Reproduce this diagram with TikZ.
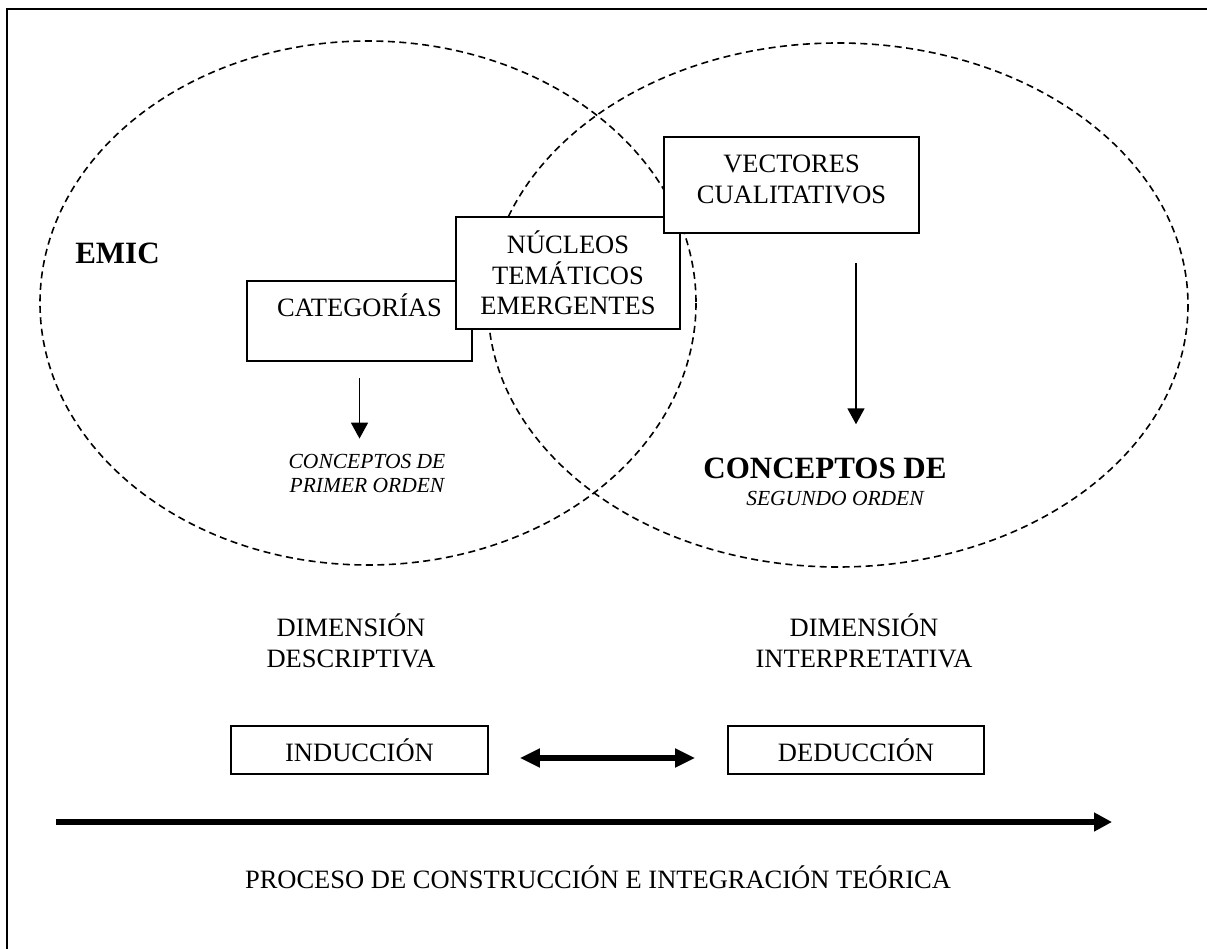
\documentclass[tikz,border=0pt]{standalone}
\usepackage{fontspec}
\setmainfont{Liberation Serif}
\usetikzlibrary{arrows.meta,positioning}

\begin{document}
\begin{tikzpicture}[
  x=1pt, y=-1pt,
  font=\fontsize{26.5}{30.5}\selectfont,
  caja/.style={draw, fill=white, line width=1.8pt, align=center, inner sep=0pt},
  txt/.style={align=center, inner sep=0pt},
  negrita/.style={font=\fontsize{31}{34}\selectfont\bfseries},
  cursiva/.style={font=\fontsize{21.5}{24}\selectfont\itshape},
  elip/.style={line width=1.6pt, dash pattern=on 7pt off 4.5pt},
  ar/.style={-{Triangle[length=16pt, width=17pt]}, line width=1.8pt},
  grueso/.style={line width=6pt, -{Triangle[length=18pt, width=18pt]}},
  doble/.style={line width=6pt, {Triangle[length=20pt, width=18pt]}-{Triangle[length=20pt, width=18pt]}}
]
\useasboundingbox (0,0) rectangle (1207,949);
\clip (0,0) rectangle (1207,949);
% marco
\draw[line width=2pt] (7,1000) -- (7,9) -- (1250,9);

% elipses emic / etic
\draw[elip] (368,303) ellipse [x radius=328, y radius=262];
\draw[elip] (838,305) ellipse [x radius=350, y radius=262];

% cajas superiores
\node[caja, minimum width=225, minimum height=80, text depth=31pt] (cat) at (359.5,321) {CATEGORÍAS};
\node[caja, minimum width=224, minimum height=112] (nuc) at (568,273) {NÚCLEOS\\TEMÁTICOS\\EMERGENTES};
\node[caja, minimum width=255, minimum height=96, text depth=12pt] (vec) at (791.5,185) {VECTORES\\CUALITATIVOS};

% textos
\node[txt, negrita, anchor=base] (emic) at (117.5,264) {EMIC};
\node[txt, cursiva] (c1) at (367,473) {CONCEPTOS DE\\PRIMER ORDEN};
\node[txt, negrita, anchor=base] (c2) at (825,478) {CONCEPTOS DE};
\node[txt, cursiva, anchor=base] (o2) at (835,505) {SEGUNDO ORDEN};
\node[txt] (dd) at (351,641) {DIMENSIÓN\\DESCRIPTIVA};
\node[txt] (di) at (864,641) {DIMENSIÓN\\INTERPRETATIVA};

% induccion / deduccion
\node[caja, minimum width=257, minimum height=48] (ind) at (359.5,750) {INDUCCIÓN};
\node[caja, minimum width=256, minimum height=48] (ded) at (856,750) {DEDUCCIÓN};

% flechas
\draw[ar, shorten >=15pt] ([yshift=-16pt]cat.south) -- (cat.south |- c1.north);
\coordinate (v0) at ([xshift=64.5pt, yshift=-29pt]vec.south);
\draw[ar, shorten >=33pt] (v0) -- (v0 |- c2.north);
\draw[doble] ([xshift=31pt, yshift=-8pt]ind.east) -- ([xshift=-32pt, yshift=-8pt]ded.west);

% proceso
\coordinate (p0) at (56,822);
\coordinate (p1) at (1112,822);
\draw[grueso] (p0) -- (p1);
\node[txt, anchor=base] (proc) at (598,888) {PROCESO DE CONSTRUCCIÓN E INTEGRACIÓN TEÓRICA};
\end{tikzpicture}
\end{document}
